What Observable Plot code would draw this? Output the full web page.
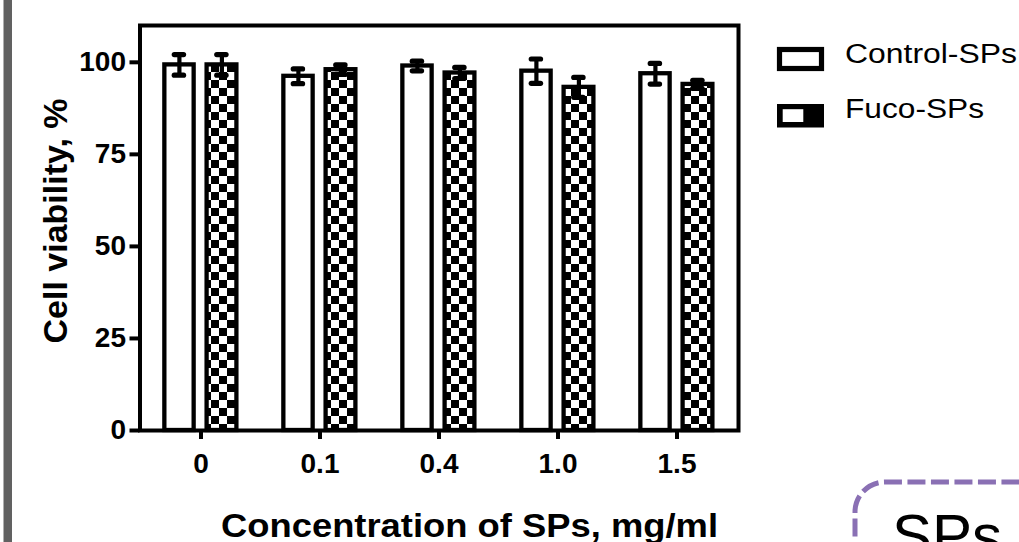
<!DOCTYPE html>
<html><head><meta charset="utf-8">
<script src="https://cdn.jsdelivr.net/npm/d3@7"></script>
<script src="https://cdn.jsdelivr.net/npm/@observablehq/plot@0.6"></script>
<style>
html,body{margin:0;padding:0;background:#fff;overflow:hidden;}
#wrap{position:relative;width:1019px;height:542px;}
#wrap svg{position:absolute;left:0;top:0;}
</style></head><body><div id="wrap"></div>
<script>
// ---- data ----
const concentrations = ["0", "0.1", "0.4", "1.0", "1.5"];
const controlMean = [99.3, 96.2, 99.0, 97.6, 96.9];
const controlSD   = [2.8, 2.0, 1.3, 3.3, 2.8];
const fucoMean    = [99.3, 98.0, 97.1, 93.2, 94.0];
const fucoSD      = [2.8, 1.3, 1.5, 2.7, 1.1];
const seriesNames = ["Control-SPs", "Fuco-SPs"];
const yTicks = [0, 25, 50, 75, 100];
const xTitle = "Concentration of SPs, mg/ml";
const yTitle = "Cell viability, %";
const sideText = "SPs";

const control = concentrations.map((c, i) => ({conc: c, mean: controlMean[i], sd: controlSD[i]}));
const fuco = concentrations.map((c, i) => ({conc: c, mean: fucoMean[i], sd: fucoSD[i]}));

const FONT = "'Liberation Sans', Arial, Helvetica, sans-serif";

const svg = Plot.plot({
  width: 1019, height: 542,
  marginLeft: 139.5, marginRight: 281, marginTop: 25, marginBottom: 112,
  style: {fontFamily: FONT, color: "black", background: "transparent", overflow: "visible"},
  x: {type: "band", domain: concentrations, padding: 0},
  y: {domain: [0, 110]},
  marks: [
    Plot.barY(control, {x: "conc", y: "mean", fill: "white", stroke: "black", strokeWidth: 4.3, insetLeft: 23.35, insetRight: 66.35}),
    Plot.barY(fuco, {x: "conc", y: "mean", fill: "url(#checker)", stroke: "black", strokeWidth: 4.3, insetLeft: 65.6, insetRight: 23.6}),
    Plot.ruleX(control, {x: "conc", y1: d => d.mean - d.sd, y2: d => d.mean + d.sd, dx: -21.6, stroke: "black", strokeWidth: 4.2}),
    Plot.ruleX(fuco, {x: "conc", y1: d => d.mean - d.sd, y2: d => d.mean + d.sd, dx: 20.9, stroke: "black", strokeWidth: 4.2}),
    Plot.tickY(control, {x: "conc", y: d => d.mean + d.sd, insetLeft: 33.25, insetRight: 76.45, stroke: "black", strokeWidth: 5.2, strokeLinecap: "round"}),
    Plot.tickY(control, {x: "conc", y: d => d.mean - d.sd, insetLeft: 33.25, insetRight: 76.45, stroke: "black", strokeWidth: 5.2, strokeLinecap: "round"}),
    Plot.tickY(fuco, {x: "conc", y: d => d.mean + d.sd, insetLeft: 75.75, insetRight: 33.95, stroke: "black", strokeWidth: 5.2, strokeLinecap: "round"}),
    Plot.tickY(fuco, {x: "conc", y: d => d.mean - d.sd, insetLeft: 75.75, insetRight: 33.95, stroke: "black", strokeWidth: 5.2, strokeLinecap: "round"}),
    Plot.frame({stroke: "black", strokeWidth: 4}),
    Plot.axisY({ticks: yTicks, tickSize: 10, tickPadding: 4, strokeWidth: 4, fontSize: 28, fontWeight: "bold", label: null}),
    Plot.axisX({tickSize: 9, tickPadding: 14, strokeWidth: 4, fontSize: 28, fontWeight: "bold", label: null})
  ]
});

const s = d3.select(svg);
// checker pattern
const defs = s.insert("defs", ":first-child");
const pat = defs.append("pattern").attr("id", "checker").attr("patternUnits", "userSpaceOnUse")
  .attr("width", 16).attr("height", 16).attr("x", 3).attr("y", 0);
pat.append("rect").attr("width", 16).attr("height", 16).attr("fill", "white");
pat.append("rect").attr("width", 8).attr("height", 8).attr("fill", "black");
pat.append("rect").attr("x", 8).attr("y", 8).attr("width", 8).attr("height", 8).attr("fill", "black");

const extra = s.append("g").attr("text-anchor", "start").attr("font-family", FONT).attr("fill", "black");

// axis titles
extra.append("text").attr("transform", "translate(67,221) rotate(-90)")
  .attr("text-anchor", "middle").attr("font-weight", "bold")
  .attr("font-size", 34).text(yTitle);
extra.append("text").attr("x", 221).attr("y", 536.5).attr("text-anchor", "start")
  .attr("font-weight", "bold").attr("font-size", 33)
  .attr("textLength", 497).attr("lengthAdjust", "spacingAndGlyphs").text(xTitle);

// legend
extra.append("rect").attr("x", 779.5).attr("y", 49.5).attr("width", 42).attr("height", 19)
  .attr("fill", "white").attr("stroke", "black").attr("stroke-width", 5.2);
extra.append("rect").attr("x", 777).attr("y", 104).attr("width", 47).attr("height", 23.5).attr("fill", "black");
extra.append("rect").attr("x", 782.7).attr("y", 109.2).attr("width", 20.6).attr("height", 12.8).attr("fill", "white");
extra.append("text").attr("x", 845).attr("y", 63.3).attr("text-anchor", "start").attr("font-size", 27)
  .attr("textLength", 172).attr("lengthAdjust", "spacingAndGlyphs").text(seriesNames[0]);
extra.append("text").attr("x", 845).attr("y", 117.5).attr("text-anchor", "start").attr("font-size", 27)
  .attr("textLength", 139).attr("lengthAdjust", "spacingAndGlyphs").text(seriesNames[1]);

// left gray strip
extra.append("rect").attr("x", 3.5).attr("y", -5).attr("width", 8.5).attr("height", 560).attr("fill", "#616161");

// dashed purple rounded box (partly visible)
extra.append("path").attr("d", "M855,560 L855,512 A30,30 0 0 1 885,482 L1030,482")
  .attr("fill", "none").attr("stroke", "#8a70b4").attr("stroke-width", 5)
  .attr("stroke-dasharray", "18 5.5");
extra.append("text").attr("x", 892).attr("y", 556).attr("text-anchor", "start").attr("font-size", 60)
  .text(sideText);

document.getElementById("wrap").appendChild(svg);
</script></body></html>
